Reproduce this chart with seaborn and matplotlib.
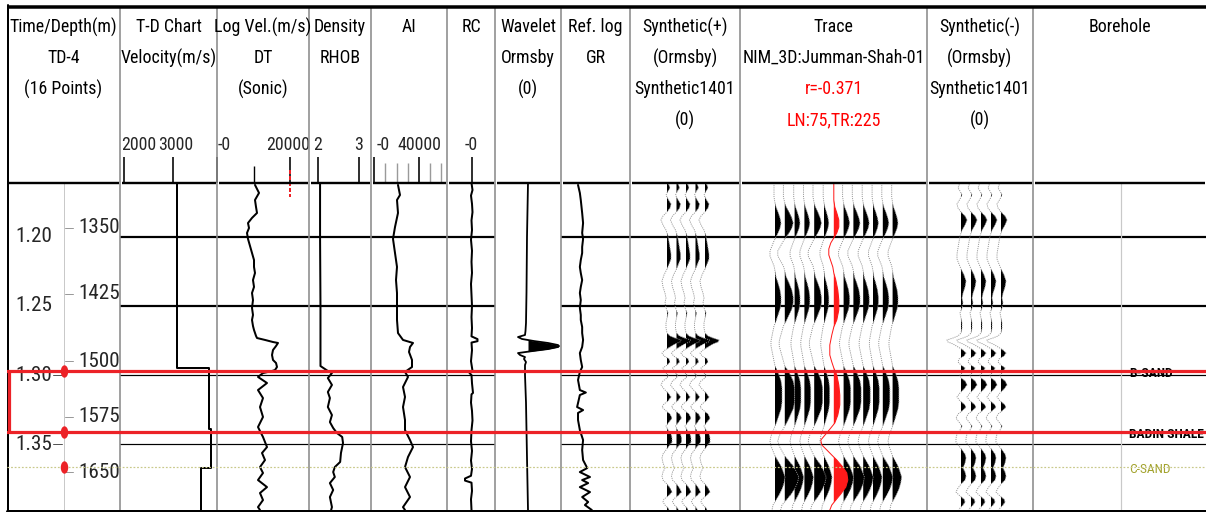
import numpy as np
import matplotlib
matplotlib.use("Agg")
import matplotlib.pyplot as plt
import seaborn as sns
from matplotlib import font_manager
from matplotlib.path import Path
from matplotlib.transforms import Affine2D, ScaledTranslation

# ---------------- well data (two-way time in ms) ----------------
time_marks_ms = [1200, 1250, 1300, 1350]
td_time_ms = [1193.5, 1241.3, 1289.9, 1330.4, 1370.3]
td_depth_m = [1350, 1425, 1500, 1575, 1650]

tops_name = ["B-SAND", "BADIN SHALE", "C-SAND"]
tops_ms = [1297.1, 1341.3, 1367.0]

# T-D chart interval velocity (m/s) between step boundaries
td_step_ms = [1160.9, 1294.9, 1339.1, 1367.4, 1397.8]
td_velocity = [3080, 3735, 3775, 3570]

# sonic log velocity
dt_ms = [1162.3, 1168.1, 1173.2, 1178.3, 1182.6, 1186.2, 1189.9, 1193.5, 1197.1, 1201.4,
         1206.5, 1211.6, 1216.7, 1221.7, 1226.1, 1231.2, 1236.2, 1240.6, 1245.7, 1251.4,
         1256.5, 1260.1, 1264.5, 1267.4, 1271.7, 1273.2, 1274.6, 1276.1, 1276.8, 1279.0,
         1281.9, 1285.5, 1289.1, 1291.3, 1294.2, 1296.4, 1297.1, 1298.6, 1301.4, 1305.8,
         1310.9, 1316.7, 1323.2, 1330.4, 1337.7, 1344.9, 1352.2, 1356.5, 1361.6, 1366.7,
         1371.0, 1376.1, 1381.2, 1385.5, 1390.6, 1395.7, 1397.8]
dt_vel = [10410, 11510, 10410, 10690, 10960, 9590, 8490, 8770, 8220, 8490,
          9040, 9590, 10140, 10140, 10410, 9860, 10140, 9590, 9860, 9590,
          9860, 9590, 9860, 10140, 10690, 10960, 13150, 15340, 16710, 16170,
          15340, 15070, 15340, 16170, 16440, 15890, 15070, 12600, 11230, 13700,
          11230, 12600, 11780, 12600, 11230, 12600, 13700, 12330, 13150, 11780,
          12600, 11230, 13700, 11780, 12600, 11230, 11780]

# bulk density (g/cc)
rhob_ms = [1160.9, 1200.0, 1250.0, 1293.5, 1297.1, 1298.6, 1302.2, 1307.2, 1312.3, 1316.7,
           1323.2, 1329.0, 1334.1, 1338.4, 1342.0, 1344.9, 1349.3, 1356.5, 1363.0, 1366.7,
           1370.3, 1373.9, 1378.3, 1383.3, 1388.4, 1395.7, 1397.8]
rhob_val = [2.05, 2.05, 2.06, 2.06, 2.24, 2.34, 2.24, 2.34, 2.24, 2.29,
            2.24, 2.34, 2.29, 2.37, 2.46, 2.59, 2.61, 2.56, 2.54, 2.41,
            2.37, 2.41, 2.29, 2.37, 2.29, 2.34, 2.32]

# acoustic impedance
ai_ms = [1162.3, 1169.6, 1173.2, 1182.6, 1192.8, 1201.4, 1211.6, 1221.7, 1231.2, 1240.6,
         1251.4, 1260.1, 1269.6, 1274.6, 1276.8, 1279.7, 1283.3, 1289.1, 1294.2, 1297.8,
         1301.4, 1308.7, 1315.9, 1323.2, 1332.6, 1339.9, 1347.1, 1352.2, 1359.4, 1366.7,
         1373.9, 1381.2, 1388.4, 1395.7, 1397.8]
ai_val = [21330, 23110, 20440, 21330, 18670, 16890, 18670, 20440, 19560, 20440,
          20440, 20440, 21330, 25780, 34670, 32000, 31110, 33780, 33780, 27560,
          30220, 25780, 27560, 25780, 27560, 27560, 32000, 34670, 30220, 27560,
          32000, 27560, 32000, 25780, 27560]

# reflection coefficient
rc_ms = [1160.9, 1166.0, 1170.0, 1176.0, 1182.0, 1188.0, 1195.0, 1202.0, 1210.0, 1218.0,
         1226.0, 1234.0, 1242.0, 1250.0, 1258.0, 1266.0, 1272.0, 1274.0, 1275.5, 1276.5,
         1282.0, 1290.0, 1297.0, 1298.6, 1300.0, 1306.0, 1313.0, 1314.0, 1320.0, 1326.0,
         1333.0, 1340.0, 1348.0, 1355.0, 1362.0, 1368.0, 1373.0, 1375.0, 1376.5, 1378.0,
         1384.0, 1390.0, 1397.8]
rc_val = [0.0, 0.01, -0.005, 0.005, 0.01, 0.0, 0.005, -0.005, 0.005, 0.0,
          0.005, -0.005, 0.0, 0.005, 0.0, 0.005, 0.0, 0.06, 0.06, 0.0,
          0.005, -0.005, 0.01, -0.02, 0.0, 0.005, 0.015, 0.0, -0.005, 0.005,
          0.01, 0.0, -0.005, 0.005, -0.005, 0.005, -0.005, -0.065, -0.065, 0.0,
          0.005, -0.005, 0.0]

# Ormsby wavelet
wavelet_ms = [1160.9, 1200.0, 1240.0, 1262.3, 1268.1, 1271.0, 1272.5, 1273.9, 1275.4, 1276.8,
              1278.3, 1279.0, 1279.7, 1281.2, 1282.6, 1284.1, 1285.5, 1287.0, 1288.4, 1290.6,
              1292.8, 1300.0, 1320.0, 1360.0, 1397.8]
wavelet_amp = [0, -1, -1.5, -2, -2.5, -3, -10, -6, 6, 20,
               30, 31, 30, 20, 5, -10, -8, -3, -4, -2,
               -3, -3, -2, -1, 0]

# gamma ray reference log (API)
gr_ms = [1162.3, 1168.1, 1173.2, 1182.6, 1189.9, 1197.1, 1201.4, 1207.2, 1211.6, 1216.7,
         1221.7, 1226.1, 1231.2, 1236.2, 1240.6, 1245.7, 1251.4, 1256.5, 1260.1, 1265.2,
         1269.6, 1274.6, 1279.7, 1284.1, 1289.1, 1294.2, 1297.8, 1303.6, 1310.9, 1312.7,
         1314.5, 1323.2, 1325.4, 1327.5, 1332.6, 1339.9, 1347.1, 1354.3, 1361.6, 1367.4,
         1370.3, 1373.9, 1376.1, 1378.3, 1381.2, 1384.8, 1388.4, 1392.0, 1394.2, 1397.8]
gr_val = [37, 41, 43, 46, 48, 46, 48, 46, 46, 43,
          41, 43, 46, 43, 41, 43, 41, 43, 43, 46,
          46, 48, 46, 41, 43, 46, 41, 37, 41, 54,
          41, 35, 48, 37, 37, 41, 48, 46, 48, 57,
          41, 63, 46, 59, 41, 63, 46, 59, 52, 67]

# synthetic seismogram (Ormsby, positive polarity)
syn_ms = [1160.9, 1162.3, 1164.5, 1166.7, 1169.6, 1172.5, 1176.1, 1179.0, 1181.9, 1184.8,
          1187.7, 1191.3, 1195.0, 1199.3, 1203.6, 1208.0, 1212.3, 1215.9, 1219.6, 1223.2,
          1227.5, 1231.9, 1236.2, 1240.6, 1244.2, 1247.8, 1251.4, 1255.1, 1258.7, 1262.3,
          1265.9, 1269.6, 1271.7, 1273.2, 1274.6, 1276.1, 1277.5, 1279.7, 1281.9, 1284.1,
          1286.2, 1288.4, 1290.6, 1292.8, 1294.9, 1297.8, 1300.0, 1302.2, 1304.3, 1307.2,
          1310.1, 1313.0, 1315.9, 1318.8, 1321.0, 1323.2, 1325.4, 1328.3, 1331.2, 1334.1,
          1337.0, 1339.9, 1342.8, 1345.7, 1348.6, 1351.4, 1354.3, 1357.2, 1360.1, 1363.8,
          1367.4, 1370.3, 1373.2, 1376.1, 1379.0, 1381.9, 1384.8, 1387.7, 1389.9, 1392.0,
          1394.2, 1396.4, 1397.8]
syn_amp = [0, 2, 3, 1, -1, 1, 4, 3, 0, -4,
           -6, -4, -1, 1, 2, 3, 4, 4, 2, 0,
           -3, -5, -4, -2, -1, -2, -1, 1, 0, -1,
           -1, 0, 3, 8, 14, 13, 8, 3, -2, -5,
           -3, 2, 3, 0, -4, -2, 1, 0, -4, -6,
           -3, 1, 4, 1, -3, -5, -2, 3, 5, 2,
           -1, 1, 4, 5, 5, 2, -1, -4, -5, -4,
           -2, -4, -5, -4, 0, 3, 5, 1, -3, -4,
           -2, 1, 2]
syn_copies = 5

# seismic traces around the well (NIM_3D)
seis_ms = [1160.9, 1165.9, 1171.0, 1175.4, 1178.3, 1181.9, 1186.2, 1189.9, 1193.5, 1197.1,
           1200.0, 1202.9, 1206.5, 1210.1, 1213.8, 1217.4, 1221.0, 1224.6, 1229.0, 1233.3,
           1238.4, 1243.5, 1247.8, 1252.2, 1256.5, 1260.9, 1264.5, 1268.1, 1271.7, 1275.4,
           1279.0, 1282.6, 1286.2, 1289.9, 1293.5, 1296.4, 1300.0, 1304.3, 1309.4, 1314.5,
           1319.6, 1324.6, 1329.0, 1333.3, 1337.0, 1340.6, 1344.2, 1347.8, 1351.4, 1355.1,
           1358.7, 1362.3, 1365.9, 1369.6, 1373.9, 1378.3, 1382.6, 1387.0, 1390.6, 1394.2,
           1397.8]
seis_amp = [-1, -1, -1, 0, 1, 3, 5, 6, 5, 3,
            1, -1, -3, -5, -5, -3, -1, 0, 1, 3,
            5, 6, 6, 5, 3, 1, -1, -2, -3, -4,
            -4, -3, -2, -1, 0, 2, 4, 6, 7, 7,
            7, 6, 4, 2, 0, -2, -4, -5, -4, -2,
            0, 3, 6, 8, 10, 9, 7, 4, 1, -2,
            -3]
trace_gain = [1.0, 1.4, 0.9, 0.9, 1.2, 0.8, 1.0, 1.1, 1.0, 0.9, 1.0, 0.9]

# trace at the well location (correlation trace)
well_ms = [1160.9, 1173.2, 1178.3, 1182.6, 1187.7, 1192.8, 1197.1, 1200.7, 1204.3, 1208.7,
           1213.0, 1217.4, 1221.7, 1226.1, 1231.2, 1238.4, 1245.7, 1252.9, 1260.1, 1265.2,
           1271.0, 1278.3, 1285.5, 1290.6, 1294.9, 1300.0, 1307.2, 1314.5, 1321.7, 1329.0,
           1334.8, 1338.4, 1342.8, 1347.1, 1350.7, 1354.3, 1358.0, 1361.6, 1366.7, 1371.0,
           1376.1, 1381.2, 1386.2, 1390.6, 1394.2, 1397.8]
well_amp = [0, 0, 1, 3, 5, 5, 3, 0, -3, -5,
            -5, -3, -1, 0, 2, 4, 5, 5, 3, 0,
            -2, -4, -4, -2, 0, 3, 5, 6, 6, 4,
            1, -3, -8, -13, -12, -7, -2, 3, 9, 13,
            14, 12, 7, 2, -2, -4]

headers = [
    ["Time/Depth(m)", "TD-4", "(16 Points)"],
    ["T-D Chart", "Velocity(m/s)"],
    ["Log Vel.(m/s)", "DT", "(Sonic)"],
    ["Density", "RHOB"],
    ["AI"],
    ["RC"],
    ["Wavelet", "Ormsby", "(0)"],
    ["Ref. log", "GR"],
    ["Synthetic(+)", "(Ormsby)", "Synthetic1401", "(0)"],
    ["Trace", "NIM_3D:Jumman-Shah-01", "r=-0.371", "LN:75,TR:225"],
    ["Synthetic(-)", "(Ormsby)", "Synthetic1401", "(0)"],
    ["Borehole"],
]
red_header_lines = {(9, 2), (9, 3)}

# ---------------- layout ----------------
W, H, DPI = 1206, 512, 100
PX = 72.0 / DPI          # points per pixel
COLS = [7, 120, 217, 309, 371, 447, 495, 561, 630, 740, 927, 1033, 1206]
Y_TOP, Y_BOT = 183, 510
T_TOP, T_BOT = 1160.9, 1397.8
RED = "#ec2227"
OLIVE = "#a3a32e"

sns.set_style("white")
available = {f.name for f in font_manager.fontManager.ttflist}
FONT = next((f for f in ["Liberation Sans Narrow", "Arial Narrow", "Roboto Condensed",
                         "Open Sans Condensed", "Liberation Sans", "Roboto"] if f in available),
            "DejaVu Sans")
plt.rcParams["font.family"] = [FONT, "DejaVu Sans"]

fig = plt.figure(figsize=(W / DPI, H / DPI), dpi=DPI)
fig.patch.set_facecolor("white")
renderer = fig.canvas.get_renderer()


def text_width(s, size, weight="normal"):
    probe = fig.text(0, 0, s, fontsize=size, fontweight=weight)
    w = probe.get_window_extent(renderer).width
    probe.remove()
    return w


# type size: the widest header word fills its column
FS = 20 * 108.0 / text_width("Time/Depth(m)", 20)
FS_SCALE = FS * 1.0
FS_AXIS = FS * 1.18
FS_TOPS = min(FS * 0.9, 20 * 75.0 / text_width("BADIN SHALE", 20, "bold"))


def frame(x0, x1, y0=Y_TOP, y1=Y_BOT):
    return [x0 / W, 1 - y1 / H, (x1 - x0) / W, (y1 - y0) / H]


def track(i, xlim, z=1):
    ax = fig.add_axes(frame(COLS[i], COLS[i + 1]), facecolor="none", zorder=z)
    for s in ax.spines.values():
        s.set_visible(False)
    ax.yaxis.set_visible(False)
    ax.xaxis.set_ticks_position("top")
    ax.set_xticks([])
    ax.set_xlim(*xlim)
    ax.set_ylim(T_BOT, T_TOP)
    return ax


def scale(ax, ticks, labels, has, shifts=None, minor=None, minor_len=20, minor_color="black"):
    xl = ax.get_xlim()
    ax.set_xticks(ticks, labels)
    ax.tick_params(axis="x", which="major", top=True, bottom=False, labeltop=True,
                   labelbottom=False, direction="out", length=26 * PX, width=1.6 * PX,
                   color="black", pad=3 * PX, labelsize=FS_SCALE)
    shifts = shifts or [0] * len(ticks)
    for lab, ha, dx in zip(ax.get_xticklabels(), has, shifts):
        lab.set_horizontalalignment(ha)
        if dx:
            lab.set_transform(lab.get_transform() + ScaledTranslation(dx / DPI, 0, fig.dpi_scale_trans))
    if minor is not None:
        ax.set_xticks(minor, minor=True)
        ax.tick_params(axis="x", which="minor", top=True, bottom=False, direction="out",
                       length=minor_len * PX, width=1.4 * PX, color=minor_color)
    ax.set_xlim(*xl)


def grid(ax):
    for t, lw in zip(time_marks_ms, [2.2, 2.2, 1.2, 1.2]):
        ax.axhline(t, color="black", lw=lw * PX, zorder=0.5)


def log_curve(ax, x, t):
    sns.lineplot(x=x, y=t, orient="y", estimator=None, sort=False, color="black",
                 lw=2.0 * PX, ax=ax)
    ax.set_xlabel("")
    ax.set_ylabel("")


def wiggle(ax, base, t, amp, per_px, line_kw, fill):
    t = np.asarray(t, dtype=float)
    x = base + np.asarray(amp, dtype=float) / per_px
    ax.plot(x, t, **line_kw)
    ax.fill_betweenx(t, base, x, where=x > base, interpolate=True, color=fill, lw=0)


# ---------------- tracks ----------------
ax_c1 = track(0, (7, 120))
ax_td = track(1, (1918.4, 3898.0))
ax_dt = track(2, (0, 25205))
ax_rho = track(3, (1.78, 3.293))
ax_ai = track(4, (-2667, 64889))
ax_rc = track(5, (-0.245, 0.235))
ax_wav = track(6, (-33, 33))
ax_gr = track(7, (0, 150))
ax_sp = track(8, (-(667 - 630) / 9.5, (740 - 667) / 9.5))
ax_tr = track(9, (-(775 - 740) / 9.8, (927 - 775) / 9.8))
ax_sm = track(10, (-(961 - 927) / 10.0, (1033 - 961) / 10.0))
ax_bh = track(11, (1033, 1206))

for ax in [ax_td, ax_dt, ax_rho, ax_ai, ax_rc, ax_gr, ax_sp, ax_tr, ax_sm, ax_bh]:
    grid(ax)

# time / depth column
ax_c1.axvline(64, color="#c9c9c9", lw=1.0 * PX)
for t in time_marks_ms:
    ax_c1.text(34, t, f"{t / 1000:.2f}", ha="center", va="center", fontsize=FS_AXIS)
for t in time_marks_ms[2:]:
    ax_c1.plot([53, 62], [t, t], color="#555555", lw=1.0 * PX)
for t, d in zip(td_time_ms, td_depth_m):
    ax_c1.plot([65, 73], [t, t], color="#9a9a9a", lw=1.0 * PX)
    ax_c1.text(78, t, str(d), ha="left", va="center", fontsize=FS_AXIS)

# T-D chart: interval velocity steps
step_t = np.repeat(td_step_ms, 2)[1:-1]
step_v = np.repeat(td_velocity, 2)
ax_td.plot(step_v, step_t, color="black", lw=2.0 * PX)
scale(ax_td, [2000, 3000], ["2000", "3000"], ["left", "center"], shifts=[-3, 3])

# sonic
log_curve(ax_dt, dt_vel, dt_ms)
scale(ax_dt, [0, 20000], ["-0", "20000"], ["left", "center"], shifts=[1, -2],
      minor=[10000], minor_len=17)
ax_dt.plot([20000, 20000], [1151.5, 1171.0], color=RED, lw=2.0 * PX, ls=(0, (2, 1)),
           clip_on=False)

# density
log_curve(ax_rho, rhob_val, rhob_ms)
scale(ax_rho, [2, 3], ["2", "3"], ["center", "center"])

# acoustic impedance
log_curve(ax_ai, ai_val, ai_ms)
scale(ax_ai, [0, 40000], ["-0", "40000"], ["left", "center"], shifts=[3, 0],
      minor=[10000, 20000, 30000, 50000, 60000], minor_len=20, minor_color="#9a9a9a")

# reflection coefficients
log_curve(ax_rc, rc_val, rc_ms)
scale(ax_rc, [0], ["-0"], ["center"])

# wavelet
ax_wav.plot(wavelet_amp, wavelet_ms, color="black", lw=1.8 * PX)
ax_wav.fill_betweenx(np.asarray(wavelet_ms, float), 0, wavelet_amp,
                     where=np.asarray(wavelet_amp) > 0, interpolate=True, color="black", lw=0)

# gamma ray
log_curve(ax_gr, gr_val, gr_ms)

# synthetics
dotted = dict(color="#8e8e8e", lw=0.9 * PX, ls=(0, (1.2, 1.2)))
for k in range(syn_copies):
    wiggle(ax_sp, k, syn_ms, syn_amp, 9.5, dotted, "black")
    wiggle(ax_sm, k, syn_ms, -np.asarray(syn_amp, float), 10.0, dotted, "black")

# seismic traces; the well trace sits in the middle
positions = [p for p in range(len(trace_gain) + 1) if p != len(trace_gain) // 2]
for p, g in zip(positions, trace_gain):
    wiggle(ax_tr, p, seis_ms, np.asarray(seis_amp, float) * g, 9.8, dotted, "black")
wiggle(ax_tr, len(trace_gain) // 2, well_ms, well_amp, 9.8,
       dict(color="#ff1a1a", lw=1.0 * PX), "#ff1a1a")

# borehole
ax_bh.axvline(1121, color="#c9c9c9", lw=1.2 * PX)
for name, t in zip(tops_name, tops_ms):
    is_c = name == "C-SAND"
    ax_bh.text(1129, t + 1.5, name, ha="left", va="center", fontsize=FS_TOPS,
               fontweight="normal" if is_c else "bold", color=OLIVE if is_c else "black",
               clip_on=False)

# ---------------- header and frame ----------------
ov = fig.add_axes([0, 0, 1, 1], facecolor="none", zorder=2)
ov.set_xlim(0, W)
ov.set_ylim(H, 0)
ov.axis("off")
line_y = [27, 58, 89, 120]
for i, lines in enumerate(headers):
    cx = (COLS[i] + COLS[i + 1]) / 2
    for j, txt in enumerate(lines):
        ov.text(cx, line_y[j], txt, ha="center", va="center", fontsize=FS,
                color="#ff0000" if (i, j) in red_header_lines else "black")
for x in COLS[1:-1]:
    ov.plot([x, x], [8, Y_BOT], color="#8c8c8c", lw=1.6 * PX, solid_capstyle="butt")
for x0, x1 in zip(COLS[:-1], COLS[1:]):
    ov.plot([x0 + 1.5, x1 - 1.5], [Y_TOP, Y_TOP], color="black", lw=2.4 * PX,
            solid_capstyle="butt")
ov.plot([7, W], [6.5, 6.5], color="black", lw=3.5 * PX, solid_capstyle="butt")
ov.plot([7.5, 7.5], [5, Y_BOT + 1], color="black", lw=2.0 * PX)
ov.plot([7, W], [Y_BOT + 0.5, Y_BOT + 0.5], color="black", lw=3.0 * PX)

# ---------------- horizons across all tracks ----------------
hz = fig.add_axes(frame(7, W), facecolor="none", zorder=3)
hz.set_xlim(7, W)
hz.set_ylim(T_BOT, T_TOP)
hz.axis("off")
hz.axhline(tops_ms[0], color=RED, lw=3.2 * PX)
hz.axhline(tops_ms[1], color=RED, lw=3.2 * PX)
hz.vlines(8.5, tops_ms[0], tops_ms[1], color=RED, lw=3.2 * PX)
hz.axhline(tops_ms[2], color="#c9c98a", lw=1.2 * PX, ls=(0, (1.5, 1.5)))
ellipse = Path.unit_circle().transformed(Affine2D().scale(0.6, 1.0))
hz.scatter([64] * len(tops_ms), tops_ms, marker=ellipse, s=80, color=RED, zorder=5,
           linewidths=0)

fig.savefig("out.png", dpi=DPI)
